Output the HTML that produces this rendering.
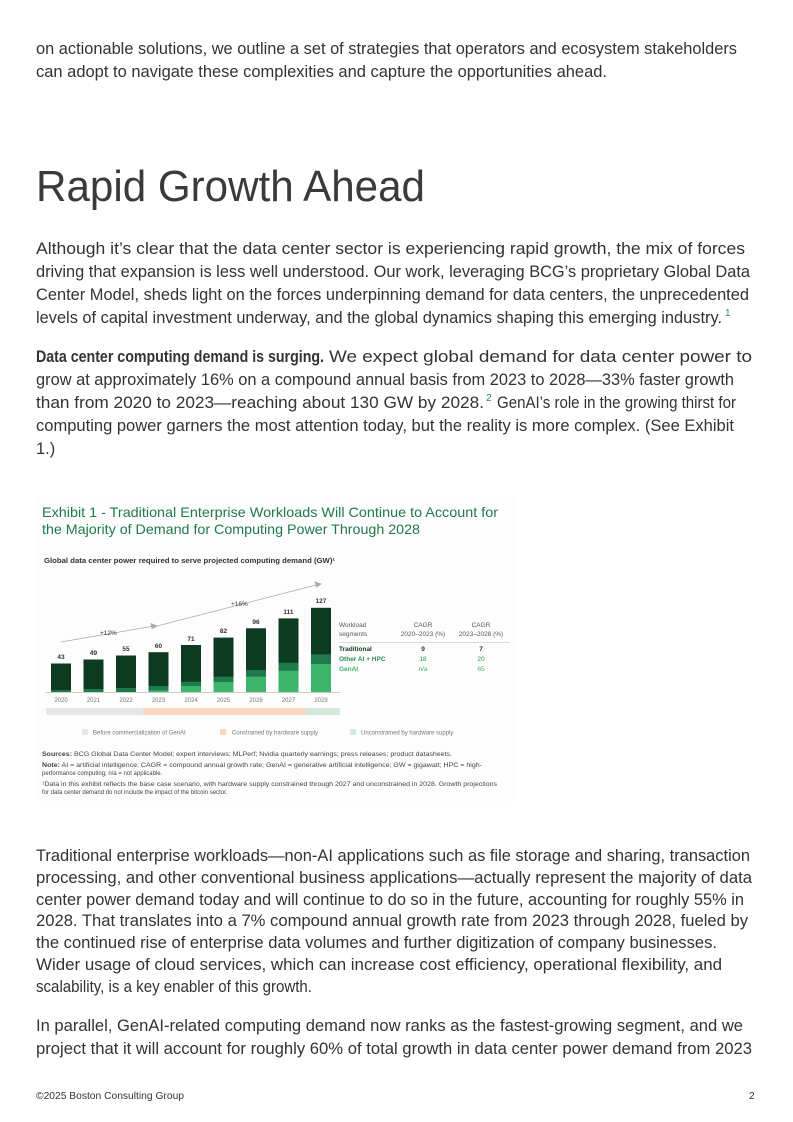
<!DOCTYPE html>
<html><head><meta charset="utf-8"><style>
html,body{margin:0;padding:0;background:#fff;}
svg{display:block;}
.b{font-family:"Liberation Sans",sans-serif;font-size:16.5px;fill:#333;}
.s{font-family:"Liberation Sans",sans-serif;}
</style></head><body>
<svg width="793" height="1122" viewBox="0 0 793 1122" xmlns="http://www.w3.org/2000/svg">
<g class="b">
<text x="36" y="54" textLength="701" lengthAdjust="spacingAndGlyphs">on actionable solutions, we outline a set of strategies that operators and ecosystem stakeholders</text>
<text x="36" y="77" textLength="571" lengthAdjust="spacingAndGlyphs">can adopt to navigate these complexities and capture the opportunities ahead.</text>
<text x="36" y="254" textLength="709" lengthAdjust="spacingAndGlyphs">Although it’s clear that the data center sector is experiencing rapid growth, the mix of forces</text>
<text x="36" y="277" textLength="714" lengthAdjust="spacingAndGlyphs">driving that expansion is less well understood. Our work, leveraging BCG’s proprietary Global Data</text>
<text x="36" y="300" textLength="713" lengthAdjust="spacingAndGlyphs">Center Model, sheds light on the forces underpinning demand for data centers, the unprecedented</text>
<text x="36" y="323" textLength="686" lengthAdjust="spacingAndGlyphs">levels of capital investment underway, and the global dynamics shaping this emerging industry.</text>
<text x="725" y="316" style="font-size:10px;fill:#2e8a55">1</text>
<text x="36" y="362" textLength="288" lengthAdjust="spacingAndGlyphs" font-weight="bold">Data center computing demand is surging.</text>
<text x="329" y="362" textLength="423" lengthAdjust="spacingAndGlyphs">We expect global demand for data center power to</text>
<text x="36" y="385" textLength="698" lengthAdjust="spacingAndGlyphs">grow at approximately 16% on a compound annual basis from 2023 to 2028—33% faster growth</text>
<text x="36" y="408" textLength="448" lengthAdjust="spacingAndGlyphs">than from 2020 to 2023—reaching about 130 GW by 2028.</text>
<text x="486" y="401" style="font-size:10px;fill:#2e8a55">2</text>
<text x="497" y="408" textLength="239" lengthAdjust="spacingAndGlyphs">GenAI’s role in the growing thirst for</text>
<text x="36" y="431" textLength="698" lengthAdjust="spacingAndGlyphs">computing power garners the most attention today, but the reality is more complex. (See Exhibit</text>
<text x="36" y="454">1.)</text>
<text x="36" y="861" textLength="714" lengthAdjust="spacingAndGlyphs">Traditional enterprise workloads—non-AI applications such as file storage and sharing, transaction</text>
<text x="36" y="883" textLength="716" lengthAdjust="spacingAndGlyphs">processing, and other conventional business applications—actually represent the majority of data</text>
<text x="36" y="905" textLength="708" lengthAdjust="spacingAndGlyphs">center power demand today and will continue to do so in the future, accounting for roughly 55% in</text>
<text x="36" y="926" textLength="712" lengthAdjust="spacingAndGlyphs">2028. That translates into a 7% compound annual growth rate from 2023 through 2028, fueled by</text>
<text x="36" y="948" textLength="681" lengthAdjust="spacingAndGlyphs">the continued rise of enterprise data volumes and further digitization of company businesses.</text>
<text x="36" y="970" textLength="686" lengthAdjust="spacingAndGlyphs">Wider usage of cloud services, which can increase cost efficiency, operational flexibility, and</text>
<text x="36" y="992" textLength="276" lengthAdjust="spacingAndGlyphs">scalability, is a key enabler of this growth.</text>
<text x="36" y="1031" textLength="707" lengthAdjust="spacingAndGlyphs">In parallel, GenAI-related computing demand now ranks as the fastest-growing segment, and we</text>
<text x="36" y="1054" textLength="716" lengthAdjust="spacingAndGlyphs">project that it will account for roughly 60% of total growth in data center power demand from 2023</text>
</g>
<text x="36" y="201" class="s" style="font-size:44px;fill:#3a3a3a" textLength="389" lengthAdjust="spacingAndGlyphs">Rapid Growth Ahead</text>
<text x="36" y="1099" class="s" style="font-size:10px;fill:#333" textLength="148" lengthAdjust="spacingAndGlyphs">©2025 Boston Consulting Group</text>
<text x="749" y="1099" class="s" style="font-size:10px;fill:#333">2</text>

<rect x="36" y="497" width="480" height="305" fill="#fdfdfd"/>
<g class="s" style="fill:#1f7a4a;font-size:14px">
<text x="42" y="517" textLength="456" lengthAdjust="spacingAndGlyphs">Exhibit 1 - Traditional Enterprise Workloads Will Continue to Account for</text>
<text x="42" y="534" textLength="378" lengthAdjust="spacingAndGlyphs">the Majority of Demand for Computing Power Through 2028</text>
</g>
<text x="44" y="563" class="s" style="font-size:7px;font-weight:bold;fill:#333" textLength="291" lengthAdjust="spacingAndGlyphs">Global data center power required to serve projected computing demand (GW)¹</text>
<g stroke="#aaa" stroke-width="0.8" fill="#aaa">
<line x1="61" y1="642" x2="154" y2="626"/><polygon points="157,626 151,623.5 152,628.5"/>
<line x1="157" y1="626" x2="318" y2="584.5"/><polygon points="321,584 315,582 316.5,587"/>
</g>
<text x="100" y="635" class="s" style="font-size:6.5px;fill:#333">+12%</text>
<text x="231" y="606" class="s" style="font-size:6.5px;fill:#333">+16%</text>
<line x1="46" y1="692.5" x2="340" y2="692.5" stroke="#bbb" stroke-width="0.7"/>
<rect x="46" y="708" width="97" height="7" fill="#e6e6e6"/>
<rect x="143" y="708" width="163" height="7" fill="#f7d9c2"/>
<rect x="306" y="708" width="34" height="7" fill="#d5e8dc"/>
<g class="s" style="font-size:6.5px;fill:#555">
<text x="339" y="627">Workload</text><text x="339" y="636">segments</text>
<text x="423" y="627" text-anchor="middle">CAGR</text><text x="423" y="636" text-anchor="middle">2020–2023 (%)</text>
<text x="481" y="627" text-anchor="middle">CAGR</text><text x="481" y="636" text-anchor="middle">2023–2028 (%)</text>
</g>
<line x1="339" y1="642.5" x2="510" y2="642.5" stroke="#bbb" stroke-width="0.6"/>
<g class="s" style="font-size:6.5px;font-weight:bold">
<text x="339" y="651" fill="#0e3b1f">Traditional</text>
<text x="339" y="661" fill="#2e8a55">Other AI + HPC</text>
<text x="339" y="671" fill="#3cb56b">GenAI</text>
</g>
<g class="s" style="font-size:6.5px" text-anchor="middle">
<text x="423" y="651" fill="#0e3b1f" font-weight="bold">9</text><text x="481" y="651" fill="#0e3b1f" font-weight="bold">7</text>
<text x="423" y="661" fill="#2e8a55">18</text><text x="481" y="661" fill="#2e8a55">20</text>
<text x="423" y="671" fill="#3cb56b">n/a</text><text x="481" y="671" fill="#3cb56b">65</text>
</g>
<g class="s" style="font-size:6px;fill:#777">
<rect x="82" y="729" width="6" height="6" fill="#e6e6e6"/><text x="93" y="734.5">Before commercialization of GenAI</text>
<rect x="220" y="729" width="6" height="6" fill="#f7d9c2"/><text x="232" y="734.5">Constrained by hardware supply</text>
<rect x="350" y="729" width="6" height="6" fill="#d5e8dc"/><text x="361" y="734.5">Unconstrained by hardware supply</text>
</g>
<g class="s" style="font-size:6px;fill:#444">
<text x="42" y="756" textLength="410" lengthAdjust="spacingAndGlyphs"><tspan font-weight="bold">Sources:</tspan> BCG Global Data Center Model; expert interviews; MLPerf; Nvidia quarterly earnings; press releases; product datasheets.</text>
<text x="42" y="767" textLength="440" lengthAdjust="spacingAndGlyphs"><tspan font-weight="bold">Note:</tspan> AI = artificial intelligence; CAGR = compound annual growth rate; GenAI = generative artificial intelligence; GW = gigawatt; HPC = high-</text>
<text x="42" y="775">performance computing; n/a = not applicable.</text>
<text x="42" y="786" textLength="455" lengthAdjust="spacingAndGlyphs">¹Data in this exhibit reflects the base case scenario, with hardware supply constrained through 2027 and unconstrained in 2028. Growth projections</text>
<text x="42" y="794">for data center demand do not include the impact of the bitcoin sector.</text>
</g>
<g class="s" style="font-size:6.5px">
<g>
<rect x="51" y="663.5" width="20" height="28.5" fill="#0e3b1f"/><rect x="51" y="690" width="20" height="2" fill="#1e7a4d"/>
<rect x="83.5" y="659.5" width="20" height="32.5" fill="#0e3b1f"/><rect x="83.5" y="689" width="20" height="3" fill="#1e7a4d"/>
<rect x="116" y="655.5" width="20" height="36.5" fill="#0e3b1f"/><rect x="116" y="688" width="20" height="4" fill="#1e7a4d"/>
<rect x="148.5" y="652.2" width="20" height="39.8" fill="#0e3b1f"/><rect x="148.5" y="686" width="20" height="6" fill="#1e7a4d"/><rect x="148.5" y="690.3" width="20" height="1.7" fill="#3cb56b"/>
<rect x="181" y="645" width="20" height="47" fill="#0e3b1f"/><rect x="181" y="681.7" width="20" height="10.3" fill="#1e7a4d"/><rect x="181" y="686" width="20" height="6" fill="#3cb56b"/>
<rect x="213.5" y="637.6" width="20" height="54.4" fill="#0e3b1f"/><rect x="213.5" y="676.7" width="20" height="15.3" fill="#1e7a4d"/><rect x="213.5" y="682" width="20" height="10" fill="#3cb56b"/>
<rect x="246" y="628.3" width="20" height="63.7" fill="#0e3b1f"/><rect x="246" y="670" width="20" height="22" fill="#1e7a4d"/><rect x="246" y="676.7" width="20" height="15.3" fill="#3cb56b"/>
<rect x="278.5" y="618.4" width="20" height="73.6" fill="#0e3b1f"/><rect x="278.5" y="662.7" width="20" height="29.3" fill="#1e7a4d"/><rect x="278.5" y="670.7" width="20" height="21.3" fill="#3cb56b"/>
<rect x="311" y="607.8" width="20" height="84.2" fill="#0e3b1f"/><rect x="311" y="654.3" width="20" height="37.7" fill="#1e7a4d"/><rect x="311" y="664" width="20" height="28" fill="#3cb56b"/>
</g>
<g text-anchor="middle" font-weight="bold" fill="#333">
<text x="61" y="659">43</text><text x="93.5" y="655">49</text><text x="126" y="651">55</text><text x="158.5" y="648">60</text><text x="191" y="641">71</text><text x="223.5" y="633">82</text><text x="256" y="624">96</text><text x="288.5" y="614">111</text><text x="321" y="603">127</text>
</g>
<g text-anchor="middle" fill="#777" font-size="6px">
<text x="61" y="702">2020</text><text x="93.5" y="702">2021</text><text x="126" y="702">2022</text><text x="158.5" y="702">2023</text><text x="191" y="702">2024</text><text x="223.5" y="702">2025</text><text x="256" y="702">2026</text><text x="288.5" y="702">2027</text><text x="321" y="702">2028</text>
</g>
</g>
</svg>
</body></html>
